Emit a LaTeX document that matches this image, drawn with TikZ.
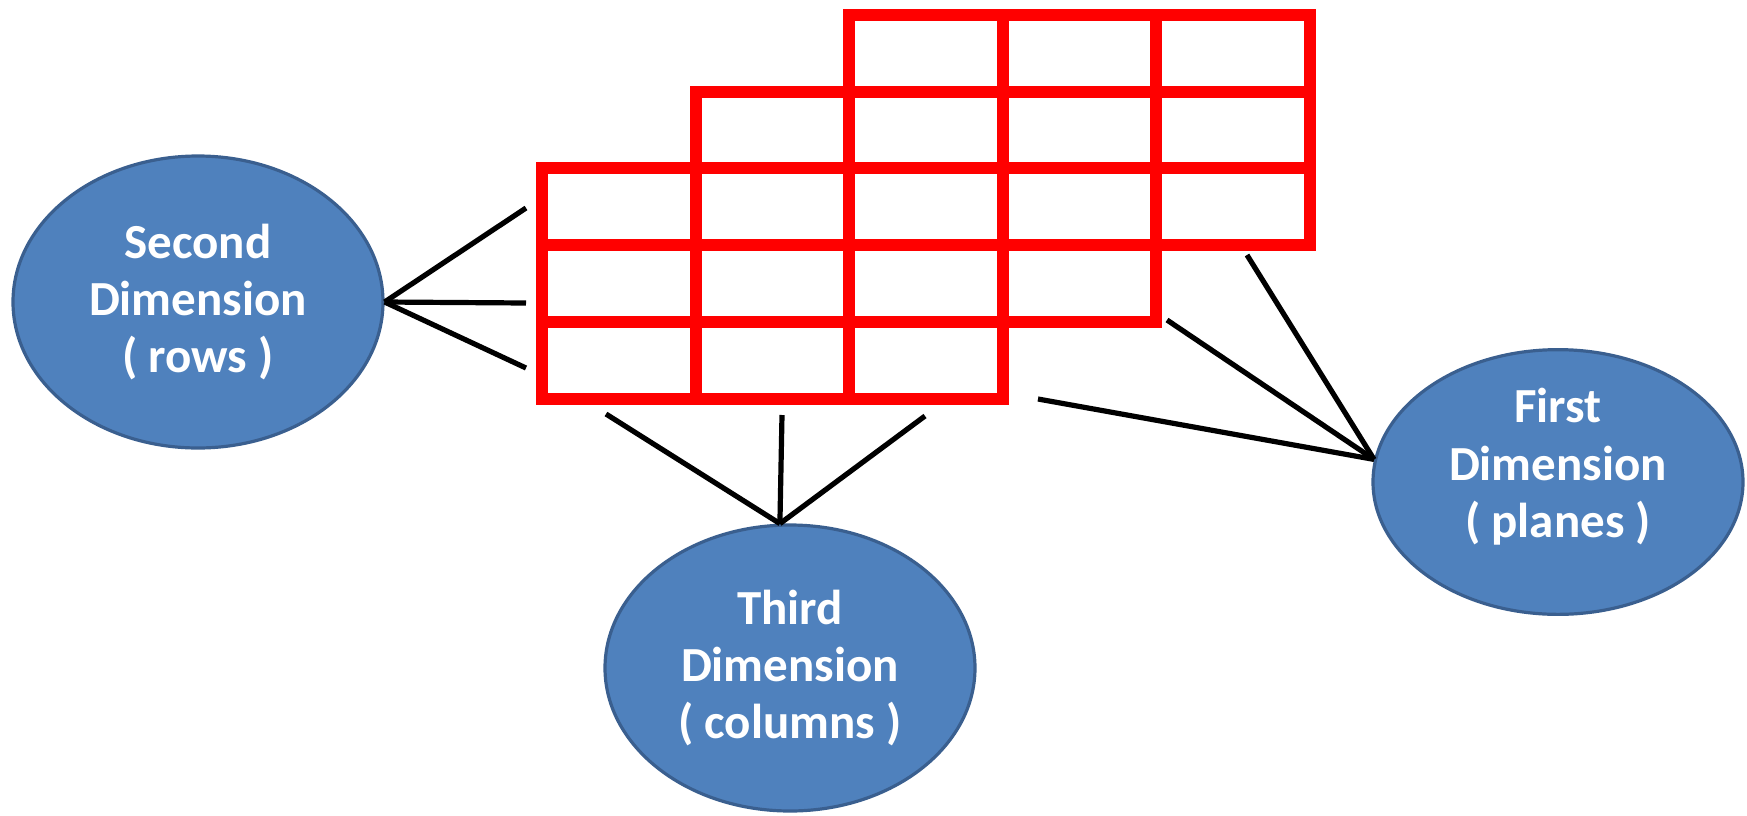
\documentclass[tikz,border=0pt]{standalone}
\usepackage{fontspec}
\setmainfont{Carlito}
\usetikzlibrary{shapes.geometric}
\definecolor{dimfill}{HTML}{4F81BD}
\definecolor{dimedge}{HTML}{3A5F8F}
\begin{document}
\begin{tikzpicture}[x=0.5pt,y=-0.5pt,
  dimnode/.style={ellipse, fill=dimfill, draw=dimedge, line width=1.6pt, inner sep=0pt, minimum width=185pt, text=white, align=center, font=\fontsize{24.5pt}{28.7pt}\selectfont\bfseries},
  cellline/.style={draw=red, line width=6pt, line cap=rect},
  link/.style={draw=black, line width=2.6pt}]
  \useasboundingbox (0,0) rectangle (1747,815);
  \foreach \k in {0,1,2} {
    \begin{scope}[shift={(542+153.6*\k,168.3-76.8*\k)}]
      \foreach \i in {0,1,2,3} {
        \draw[cellline] (153.6*\i,0) -- (153.6*\i,230.4);
        \draw[cellline] (0,76.8*\i) -- (460.8,76.8*\i);
      }
    \end{scope}
  }
  \node[dimnode, minimum height=146pt] (second) at (198,302) {Second\\Dimension\\( rows )};
  \node[dimnode, minimum height=143pt] (third) at (790,668) {Third\\Dimension\\( columns )};
  \node[dimnode, minimum height=126pt, text depth=19pt] (first) at (1558,482) {First\\Dimension\\( planes )};
  \coordinate (s1) at (526,208);
  \coordinate (s2) at (526,303);
  \coordinate (s3) at (526,368);
  \coordinate (t1) at (606,414);
  \coordinate (t2) at (782,415);
  \coordinate (t3) at (925,416);
  \coordinate (f1) at (1038,399);
  \coordinate (f2) at (1167,320);
  \coordinate (f3) at (1247,255);
  \foreach \c in {s1,s2,s3} \draw[link] (\c) -- (second.east);
  \foreach \c in {t1,t2,t3} \draw[link] (\c) -- (third.94);
  \foreach \c in {f1,f2,f3} \draw[link] (\c) -- (first.173);
\end{tikzpicture}
\end{document}
